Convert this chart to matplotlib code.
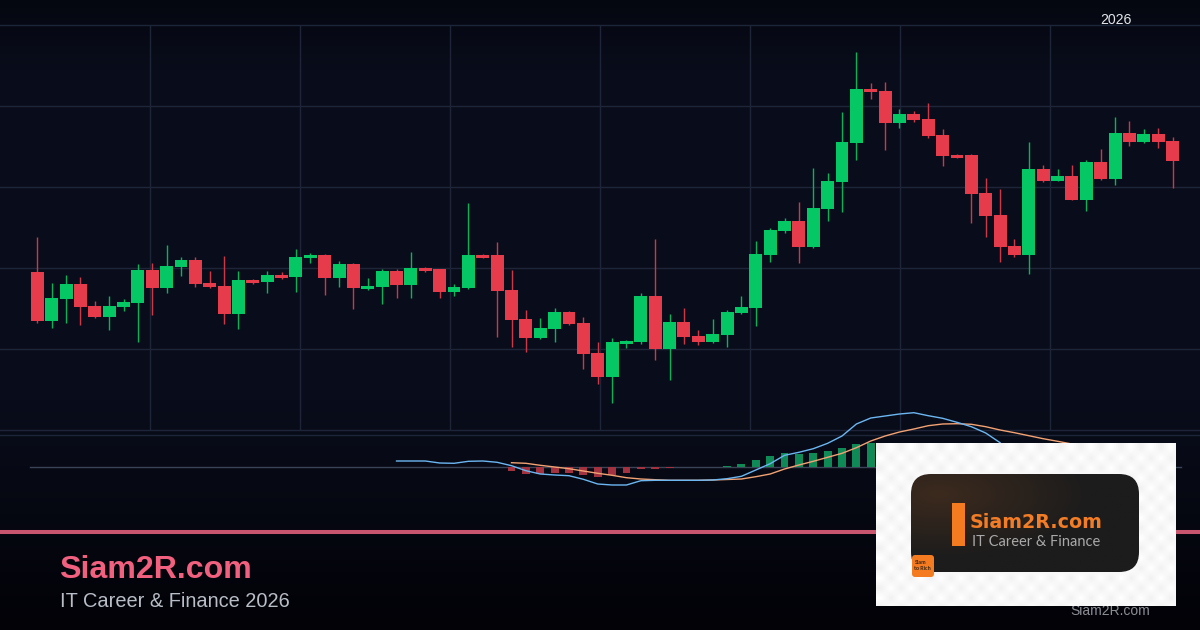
import numpy as np
import matplotlib
matplotlib.use("Agg")
import matplotlib.pyplot as plt
from matplotlib.patches import FancyBboxPatch, Rectangle

# ---- chart values (price in chart units, candle index = position in list) ----
opens = [158,109,131,146,124,113,123,127,160,142,163,170,147,144,116,150,148,155,153,172,
         175,152,166,141,143,159,145,162,161,138,142,175,175,140,111,92,101,118,107,77,
         53,86,88,134,81,108,94,88,95,117,122,175,199,209,183,221,248,287,341,339,
         307,316,311,295,275,275,237,215,184,175,261,249,254,230,268,251,297,288,296,289]
closes = [109,132,146,123,113,124,128,160,142,164,170,146,143,116,150,147,155,152,173,175,
          152,166,142,144,159,145,162,159,138,143,175,172,139,110,92,102,118,106,76,53,
          88,89,134,81,108,93,88,96,118,123,176,200,209,183,222,249,288,341,338,307,
          316,310,294,274,272,236,214,183,175,261,249,254,230,268,251,297,288,296,288,269]
highs = [193,147,155,153,129,134,131,166,167,185,173,173,159,174,159,151,159,158,181,177,
         176,169,167,152,161,161,178,163,161,146,227,176,188,160,120,112,122,119,113,88,
         92,90,137,191,116,122,100,111,120,134,189,202,212,228,262,257,318,378,347,348,
         321,319,327,301,276,276,252,241,191,288,265,261,265,270,281,313,309,301,302,293]
lows = [107,102,107,105,112,100,119,88,115,137,154,143,142,106,101,146,137,151,138,167,
        135,143,121,140,126,132,132,158,132,134,141,172,93,83,78,91,88,105,61,46,
        27,82,86,70,50,86,85,87,83,116,104,168,197,167,182,209,218,270,331,280,
        302,308,292,264,272,207,193,168,173,156,248,249,230,219,250,245,284,287,282,242]

macd_start = 25
macd_line = [6.3,6.3,6.3,4.3,4,6,6.3,5,1.6,-3.4,-6.7,-7.7,-8.4,-12,-16.7,-17.7,-17.7,-13.4,-13,-13,
             -13,-13,-12.7,-11.4,-9,-2.7,3.6,12,15,18.6,24,31.3,43.3,49.3,51.3,53.3,54.6,51.6,49,45,
             40.6,34.3,24.6]
signal_start = 33
signal_line = [4.6,4,2,0.3,-1.4,-3.7,-6,-8,-10.4,-11.7,-12.4,-13,-13,-13,-12.7,-12.2,-11.7,-9.4,-6.7,-1.7,
               2.3,6,10,14,19.6,26.3,31.3,35.3,38.3,41.6,43.3,43.6,43,40.6,37.3,34.6,31.6,28.6,26,23.3]
hist_start = 33
hist_values = [-4,-6.7,-6.7,-5.7,-5.4,-7.7,-9.7,-7.7,-5.7,-1.7,-1.7,-0.7,0,0,0,1.3,3.3,7.3,11.3,14.3,
               13.3,14.3,16.3,19.3,23.3,24.6]

time_ticks = [7.85,18.29,28.73,39.17,49.61,60.05,70.49]
price_ticks = [0,81,162,243,324,405]
year_label = "2026"
year_tick = 75.05

# ---- style ----
BG_EDGE = np.array([5, 7, 16]) / 255
BG_MID = np.array([9, 13, 27]) / 255
BG_BOT = np.array([2, 2, 7]) / 255
GREEN = "#05c864"
RED = "#e63b4b"
GRID = "#1f2538"
W, H = 1200, 630
PX0, PXSTEP = 37.3, 14.37

fig = plt.figure(figsize=(12, 6.3), dpi=100)

def pane(x0, y0, x1, y1, z):
    a = fig.add_axes([x0 / W, 1 - y1 / H, (x1 - x0) / W, (y1 - y0) / H], zorder=z)
    a.set_axis_off()
    return a

# background
bg = pane(0, 0, W, H, 0)
rows = np.linspace(0, H, 315)
t_top = np.clip(rows / 70, 0, 1)[:, None, None]
t_bot = np.clip((rows - 400) / 230, 0, 1)[:, None, None]
grad = (1 - t_top) * BG_EDGE + t_top * BG_MID
grad = (1 - t_bot) * grad + t_bot * BG_BOT
bg.imshow(grad, extent=(0, W, H, 0), aspect="auto")
bg.set_xlim(0, W); bg.set_ylim(H, 0)
bg.axhline(532, color="#c8566f", lw=2.9)
bg.text(59.5, 578, "Siam2R.com", color="#f2607f", fontsize=23.1, fontweight="bold",
        family="Liberation Sans", va="baseline", ha="left")
bg.text(60, 607, "IT Career & Finance 2026", color="#b9bdc6", fontsize=14.4,
        family="Liberation Sans", va="baseline", ha="left")
bg.text(1110.5, 615, "Siam2R.com", color="#8b8e95", fontsize=10,
        family="Liberation Sans", va="baseline", ha="center")

# price pane
ax = pane(0, 25, W, 430, 2)
ax.set_xlim(-PX0 / PXSTEP, (W - PX0) / PXSTEP)
ax.set_ylim(0, 405)
for p in price_ticks:
    ax.axhline(p, color=GRID, lw=1, clip_on=False, zorder=1)
for tk in time_ticks:
    ax.axvline(tk, color=GRID, lw=1, zorder=1)
idx = np.arange(len(opens))
o, c, hi, lo = map(np.array, (opens, closes, highs, lows))
cols = [GREEN if cc >= oo else RED for oo, cc in zip(o, c)]
ax.vlines(idx, lo, hi, colors=cols, lw=1.0, alpha=0.9, zorder=2)
ax.bar(idx, np.abs(c - o), bottom=np.minimum(o, c), width=0.9, color=cols, lw=0, zorder=3)
ax.text(year_tick, 405.5, year_label, color="#e4e6ea", fontsize=10.2,
        family="Liberation Sans", ha="center", va="baseline", clip_on=False)

# MACD pane
mx = pane(0, 405, W, 530, 3)
mx.set_xlim(ax.get_xlim())
mx.set_ylim(-62.7, 62.3)
mx.plot([-0.5, 79.6], [0, 0], color="#3b4357", lw=1, zorder=1)
mx.plot(mx.get_xlim(), [32, 32], color=GRID, lw=1, zorder=1)  # pane separator
hx = np.arange(len(hist_values)) + hist_start
mx.bar(hx, hist_values, width=0.55, lw=0, zorder=2,
       color=["#0f8a57" if v >= 0 else "#a2323f" for v in hist_values])
mx.plot(np.arange(len(macd_line)) + macd_start, macd_line, color="#6cb6f2", lw=1, zorder=4)
mx.plot(np.arange(len(signal_line)) + signal_start, signal_line, color="#f2a273", lw=1, zorder=3)

# logo
lg = pane(876, 443, 1176, 606, 5)
cell = 10
ny, nx = 163 // cell + 1, 300 // cell + 1
check = np.indices((ny, nx)).sum(axis=0) % 2
lg.imshow(check, extent=(876, 876 + nx * cell, 443 + ny * cell, 443), cmap="gray",
          vmin=-16, vmax=1, aspect="auto", interpolation="bilinear")
card = FancyBboxPatch((931, 494), 188, 58, boxstyle="round,pad=20,rounding_size=20", lw=0, fc="none")
lg.add_patch(card)
yy, xx = np.mgrid[0:1:60j, 0:1:120j]
mix = np.clip(1 - np.hypot(xx - 0.12, yy - 0.2) * 1.5, 0, 1)[..., None]
card_img = (1 - mix) * np.array([28, 28, 28]) / 255 + mix * np.array([60, 42, 30]) / 255
im = lg.imshow(card_img, extent=(911, 1139, 572, 474), aspect="auto")
im.set_clip_path(card)
lg.set_xlim(876, 1176); lg.set_ylim(606, 443)
lg.add_patch(Rectangle((952, 503), 13, 43, fc="#f47b20", lw=0))
lg.text(970, 528, "Siam2R.com", color="#f27d26", fontsize=13.7, family="DejaVu Sans", fontweight="bold",
        va="baseline", ha="left")
lg.text(972, 545.7, "IT Career & Finance", color="#a9a9a9", fontsize=10.5, family="Lato",
        va="baseline", ha="left")
lg.add_patch(FancyBboxPatch((914, 557), 18, 18, boxstyle="round,pad=2,rounding_size=3",
                            fc="#f47b20", lw=0))
lg.text(914.5, 563, "Siam", color="#3a2412", fontsize=3.9, family="Lato", fontweight="bold", va="center")
lg.text(914.5, 569, "to Rich", color="#3a2412", fontsize=3.9, family="Lato", fontweight="bold", va="center")

fig.savefig("out.png", dpi=100)
